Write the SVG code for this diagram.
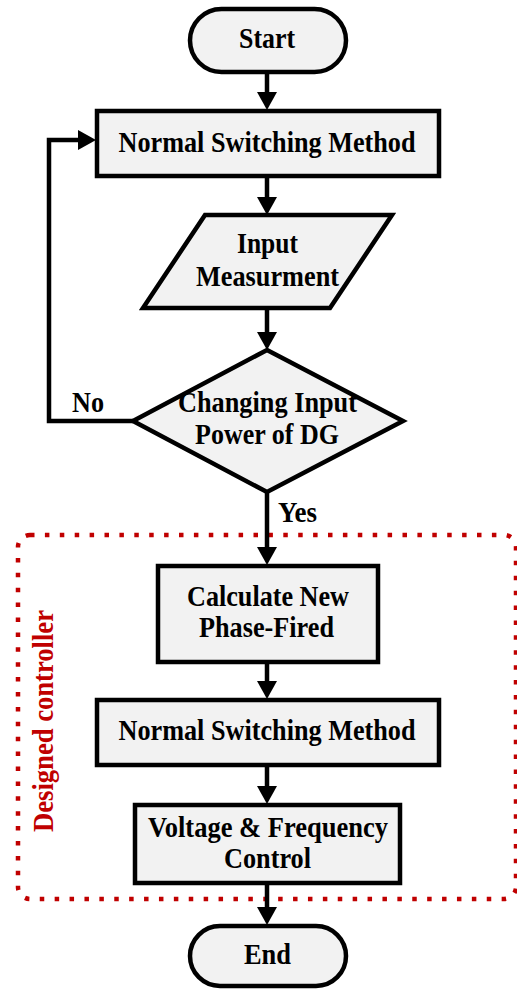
<svg xmlns="http://www.w3.org/2000/svg" width="517" height="990" viewBox="0 0 517 990">
  <defs>
    <marker id="arrow" markerUnits="userSpaceOnUse" markerWidth="20" markerHeight="20" viewBox="0 0 18 20" refX="8" refY="10" orient="auto">
      <path d="M0,0 L18,10 L0,20 z" fill="#000"/>
    </marker>
    <style>
      .shape { fill: #f2f2f2; stroke: #000; stroke-width: 4.5; stroke-linejoin: miter; }
      .label { font-family: "Liberation Serif", "Times New Roman", serif; font-weight: bold; font-size: 29px; fill: #000; text-anchor: middle; }
      .edge { fill: none; stroke: #000; stroke-width: 4.5; marker-end: url(#arrow); }
      .zone { fill: none; stroke: #c00000; stroke-width: 4.5; stroke-dasharray: 4.5 10.4; }
      .zone-label { font-family: "Liberation Serif", "Times New Roman", serif; font-weight: bold; font-size: 29px; fill: #c00000; text-anchor: middle; }
    </style>
  </defs>

  <rect width="517" height="990" fill="#fff"/>

  <!-- controller region -->
  <g id="designed-controller">
    <rect class="zone" x="18" y="535" width="498" height="364" rx="12"/>
    <text class="zone-label" transform="translate(53,721) rotate(-90)" textLength="222" lengthAdjust="spacingAndGlyphs">Designed controller</text>
  </g>

  <!-- connectors -->
  <g id="connectors">
    <line class="edge" x1="267" y1="72" x2="267" y2="100"/>
    <line class="edge" x1="267" y1="176" x2="267" y2="205"/>
    <line class="edge" x1="267" y1="308" x2="267" y2="340"/>
    <line class="edge" x1="267" y1="492" x2="267" y2="555"/>
    <line class="edge" x1="267" y1="662" x2="267" y2="689"/>
    <line class="edge" x1="267" y1="765" x2="267" y2="794"/>
    <line class="edge" x1="267" y1="883" x2="267" y2="915"/>
    <polyline class="edge" points="133,421 49,421 49,140 86,140"/>
    <text class="label" x="88" y="412" textLength="32" lengthAdjust="spacingAndGlyphs">No</text>
    <text class="label" x="297.5" y="522" textLength="39" lengthAdjust="spacingAndGlyphs">Yes</text>
  </g>

  <g id="start">
    <rect class="shape" x="190" y="9" width="156" height="63" rx="31.5"/>
    <text class="label" x="267" y="48" textLength="56" lengthAdjust="spacingAndGlyphs">Start</text>
  </g>

  <g id="normal-switching-1">
    <rect class="shape" x="97" y="111" width="342" height="65"/>
    <text class="label" x="267" y="152" textLength="297" lengthAdjust="spacingAndGlyphs">Normal Switching Method</text>
  </g>

  <g id="input-measurement">
    <polygon class="shape" points="205,215 392,215 330,308 143,308"/>
    <text class="label" x="267.5" y="253" textLength="61" lengthAdjust="spacingAndGlyphs">Input</text>
    <text class="label" x="267.5" y="286" textLength="143" lengthAdjust="spacingAndGlyphs">Measurment</text>
  </g>

  <g id="decision">
    <polygon class="shape" points="267,350 403,421 267,492 133,421"/>
    <text class="label" x="267.5" y="412" textLength="179" lengthAdjust="spacingAndGlyphs">Changing Input</text>
    <text class="label" x="267" y="444" textLength="144" lengthAdjust="spacingAndGlyphs">Power of DG</text>
  </g>

  <g id="calculate-phase">
    <rect class="shape" x="158" y="566" width="220" height="96"/>
    <text class="label" x="268" y="606" textLength="162" lengthAdjust="spacingAndGlyphs">Calculate New</text>
    <text class="label" x="266.5" y="637" textLength="135" lengthAdjust="spacingAndGlyphs">Phase-Fired</text>
  </g>

  <g id="normal-switching-2">
    <rect class="shape" x="97" y="700" width="342" height="65"/>
    <text class="label" x="267" y="740" textLength="297" lengthAdjust="spacingAndGlyphs">Normal Switching Method</text>
  </g>

  <g id="voltage-frequency">
    <rect class="shape" x="135" y="805" width="265" height="78"/>
    <text class="label" x="268" y="837" textLength="240" lengthAdjust="spacingAndGlyphs">Voltage &amp; Frequency</text>
    <text class="label" x="267.5" y="868" textLength="87" lengthAdjust="spacingAndGlyphs">Control</text>
  </g>

  <g id="end">
    <rect class="shape" x="190" y="926" width="156" height="60" rx="30"/>
    <text class="label" x="267.5" y="964" textLength="47" lengthAdjust="spacingAndGlyphs">End</text>
  </g>
</svg>
